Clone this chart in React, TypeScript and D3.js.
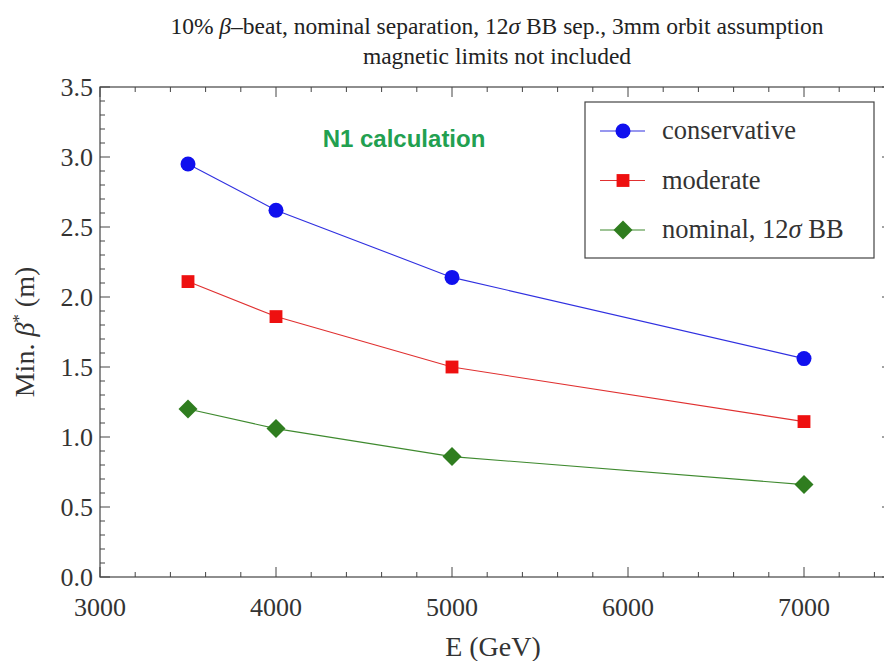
import * as React from 'react';
import { scaleLinear, line, range, symbol, symbolSquare } from 'd3';

// E (GeV) and min beta* (m) for each scenario
const energies = [3500, 4000, 5000, 7000];
const conservative = [2.95, 2.62, 2.14, 1.56];
const moderate = [2.11, 1.86, 1.5, 1.11];
const nominal = [1.2, 1.06, 0.86, 0.66];

const xTicks = [3000, 4000, 5000, 6000, 7000];
const yTicks = [0, 0.5, 1, 1.5, 2, 2.5, 3, 3.5];

const seriesNames = ['conservative', 'moderate', 'nominal'];
const seriesColors = ['#1010ee', '#ee1010', '#2f7d1f'];
const seriesLines = ['#3030e0', '#e03030', '#3f8a2f'];

const W = 884;
const H = 661;
const margin = { left: 100, right: -8, top: 87, bottom: 84 };

const serif = '"Liberation Serif", "Times New Roman", serif';

const Marker = ({ kind, x, y }: { kind: number; x: number; y: number }) => {
    if (kind === 0) {
        return <circle cx={x} cy={y} r={7.5} fill={seriesColors[0]} />;
    }
    const s = kind === 1 ? symbol(symbolSquare, 165)() : symbol(symbolSquare, 180)();
    const rot = kind === 2 ? ' rotate(45)' : '';
    return <path d={s || ''} transform={`translate(${x},${y})${rot}`} fill={seriesColors[kind]} />;
};

const App = () => {
    const x = scaleLinear().domain([3000, 7500]).range([margin.left, W - margin.right]);
    const y = scaleLinear().domain([0, 3.5]).range([H - margin.bottom, margin.top]);
    const all = [conservative, moderate, nominal];

    const lineGen = line<number>()
        .x((_, i) => x(energies[i]))
        .y((d) => y(d));

    const xMinor = range(3000, 7501, 200);
    const yMinor = range(0, 35.01, 1).map((v) => v / 10);
    const x0 = x(3000), x1 = x(7500), y0 = y(0), y1 = y(3.5);

    return (
        <svg width={W} height={H} style={{ position: 'absolute', left: 0, top: 0, background: 'white' }}>
            <text x={497} y={34} textAnchor="middle" fontFamily={serif} fontSize={23.5} fill="#222">
                10% <tspan fontStyle="italic">β</tspan>–beat, nominal separation, 12<tspan fontStyle="italic">σ</tspan> BB sep., 3mm orbit assumption
            </text>
            <text x={497} y={64} textAnchor="middle" fontFamily={serif} fontSize={23.5} fill="#222">
                magnetic limits not included
            </text>

            {/* frame */}
            <rect x={x0} y={y1} width={x1 - x0} height={y0 - y1} fill="none" stroke="#444" strokeWidth={1.2} />

            {/* x ticks, bottom and top */}
            {xMinor.map((v) => {
                const major = v % 1000 === 0;
                const len = major ? 10 : 5;
                return (
                    <g key={'x' + v} stroke="#444" strokeWidth={1}>
                        <line x1={x(v)} x2={x(v)} y1={y0} y2={y0 - len} />
                        <line x1={x(v)} x2={x(v)} y1={y1} y2={y1 + len} />
                    </g>
                );
            })}
            {xTicks.map((v) => (
                <text key={'xl' + v} x={x(v)} y={y0 + 39} textAnchor="middle" fontFamily={serif} fontSize={26} fill="#333">
                    {v}
                </text>
            ))}

            {/* y ticks, left and right */}
            {yMinor.map((v, i) => {
                const major = i % 5 === 0;
                const len = major ? 10 : 5;
                return (
                    <g key={'y' + i} stroke="#444" strokeWidth={1}>
                        <line x1={x0} x2={x0 + len} y1={y(v)} y2={y(v)} />
                        <line x1={x1} x2={x1 - len} y1={y(v)} y2={y(v)} />
                    </g>
                );
            })}
            {yTicks.map((v) => (
                <text key={'yl' + v} x={x0 - 7} y={y(v) + 9} textAnchor="end" fontFamily={serif} fontSize={26} fill="#333">
                    {v.toFixed(1)}
                </text>
            ))}

            <text x={493} y={656} textAnchor="middle" fontFamily={serif} fontSize={28} fill="#333">E (GeV)</text>
            <text transform={`translate(34,${(y0 + y1) / 2}) rotate(-90)`} textAnchor="middle" fontFamily={serif} fontSize={28} fill="#333">
                Min. <tspan fontStyle="italic">β</tspan><tspan fontSize={17} dy={-10}>*</tspan><tspan dy={10}> (m)</tspan>
            </text>

            <text x={404} y={147} textAnchor="middle" fontFamily='"Liberation Sans", Arial, sans-serif' fontWeight="bold" fontSize={24} fill="#22a050">
                N1 calculation
            </text>

            {/* series */}
            {all.map((vals, k) => (
                <g key={seriesNames[k]}>
                    <path d={lineGen(vals) || ''} fill="none" stroke={seriesLines[k]} strokeWidth={1.1} />
                    {vals.map((v, i) => (
                        <Marker key={i} kind={k} x={x(energies[i])} y={y(v)} />
                    ))}
                </g>
            ))}

            {/* legend */}
            <rect x={585} y={102} width={289} height={156} fill="white" stroke="#444" strokeWidth={1.2} />
            {['conservative', 'moderate', 'nominal, 12'].map((label, k) => {
                const ly = 131 + k * 49.5;
                return (
                    <g key={'lg' + k}>
                        <line x1={600} x2={645} y1={ly} y2={ly} stroke={seriesLines[k]} strokeWidth={1.1} />
                        <Marker kind={k} x={623} y={ly} />
                        <text x={662} y={ly + 8} fontFamily={serif} fontSize={26.5} fill="#333">
                            {label}
                            {k === 2 ? <><tspan fontStyle="italic">σ</tspan> BB</> : null}
                        </text>
                    </g>
                );
            })}
        </svg>
    );
};

export default App;
